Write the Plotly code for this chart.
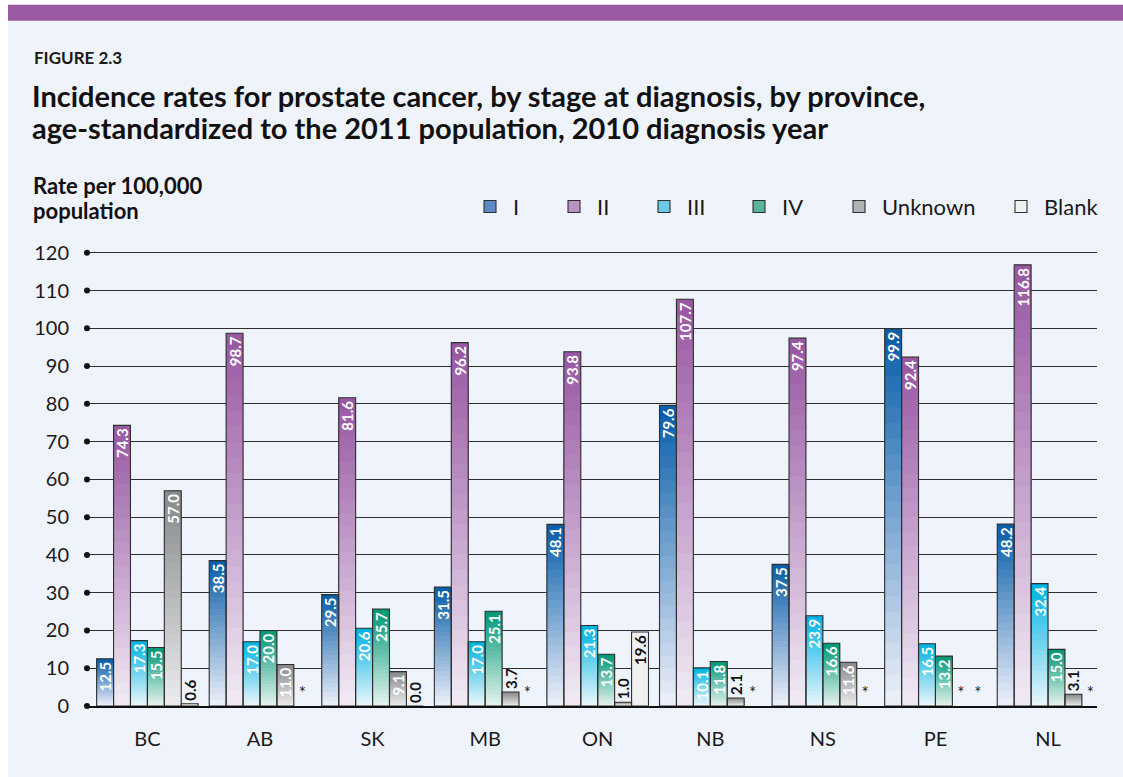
import plotly.graph_objects as go

# ---------------- data ----------------
provinces = ["BC", "AB", "SK", "MB", "ON", "NB", "NS", "PE", "NL"]
stage_I = [12.5, 38.5, 29.5, 31.5, 48.1, 79.6, 37.5, 99.9, 48.2]
stage_II = [74.3, 98.7, 81.6, 96.2, 93.8, 107.7, 97.4, 92.4, 116.8]
stage_III = [17.3, 17.0, 20.6, 17.0, 21.3, 10.1, 23.9, 16.5, 32.4]
stage_IV = [15.5, 20.0, 25.7, 25.1, 13.7, 11.8, 16.6, 13.2, 15.0]
stage_unknown = [57.0, 11.0, 9.1, 3.7, 1.0, 2.1, 11.6, None, 3.1]
stage_blank = [0.6, None, 0.0, None, 19.6, None, None, None, None]
y_ticks = [0, 10, 20, 30, 40, 50, 60, 70, 80, 90, 100, 110, 120]

# name, values, gradient top colour, gradient bottom colour, legend swatch, label colour
series = [
    ("I", stage_I, (10, 94, 170), (234, 238, 248), "#5f88c6", "white"),
    ("II", stage_II, (152, 88, 163), (240, 233, 244), "#bb92c6", "white"),
    ("III", stage_III, (0, 180, 226), (232, 245, 251), "#6ccae6", "white"),
    ("IV", stage_IV, (0, 152, 118), (228, 242, 237), "#5ab39b", "white"),
    ("Unknown", stage_unknown, (136, 137, 140), (234, 234, 236), "#b2b3b7", "white"),
    ("Blank", stage_blank, (240, 240, 240), (240, 240, 240), "#f1f1f1", "#111111"),
]
legend_box_left = [481, 565, 655, 750, 850, 1012]  # pixel x of legend swatches

FONT = "Lato"
W, H = 1123, 777
L, R, B = 87, 1097, 706
Y_MAX = 121
T = B - 453 * Y_MAX / 120  # so that 120 lands at pixel 253
N_BANDS = 24


def px_x(p):
    return (p - L) / (R - L)


def px_y(p):
    return (B - p) / (B - T)


def mix(c1, c2, t):
    return "rgb(%d,%d,%d)" % tuple(round(a + (b - a) * t) for a, b in zip(c1, c2))


fig = go.Figure()

# gradient fill: overlapping bands, each band reaching a fraction of the bar's own height
for name, vals, top, bottom, swatch, lab in series:
    for k in range(N_BANDS):
        frac = 1 - k / N_BANDS
        fig.add_trace(go.Bar(
            x=provinces, y=[None if v is None else v * frac for v in vals],
            offsetgroup=name, showlegend=False, hoverinfo="skip",
            marker=dict(color=mix(top, bottom, k / (N_BANDS - 1)), line=dict(width=0)),
        ))

# outlines + value labels
for name, vals, top, bottom, swatch, lab in series:
    texts, positions, colors = [], [], []
    for v in vals:
        if v is None:
            texts.append("")
            positions.append("none")
            colors.append("#111111")
        elif v < 5:
            texts.append(f"{v:.1f}")
            positions.append("outside")
            colors.append("#111111")
        else:
            texts.append(f"{v:.1f}")
            positions.append("inside")
            colors.append(lab)
    fig.add_trace(go.Bar(
        name=name, x=provinces, y=vals, offsetgroup=name, showlegend=False,
        marker=dict(color="rgba(0,0,0,0)", line=dict(color="#2f2f2f", width=1.1)),
        text=texts, textposition=positions, textangle=-90,
        insidetextanchor="end", cliponaxis=False,
        textfont=dict(family=FONT, size=15, color=colors, weight="bold"),
        outsidetextfont=dict(family=FONT, size=15, color="#111111", weight="bold"),
        hoverinfo="skip",
    ))
    # suppressed-value markers (*)
    star_y = [0 if v is None else None for v in vals]
    if any(s is not None for s in star_y):
        fig.add_trace(go.Bar(
            x=provinces, y=star_y, offsetgroup=name,
            marker=dict(color="rgba(0,0,0,0)", line=dict(width=0)),
            text=["*" if s is not None else "" for s in star_y],
            textposition="outside", textangle=0, cliponaxis=False,
            textfont=dict(family=FONT, size=17, color="#222222"),
            showlegend=False, hoverinfo="skip",
        ))

# legend entries (one legend per entry so they can be spaced like the original)
for i, (name, vals, top, bottom, swatch, lab) in enumerate(series):
    fig.add_trace(go.Bar(
        name=name, x=provinces, y=[None] * len(provinces), offsetgroup=name,
        marker=dict(color=swatch, line=dict(color="#2f2f2f", width=1.1)),
        legend="legend" if i == 0 else f"legend{i + 1}", hoverinfo="skip",
    ))

# dots at the left end of each gridline
fig.add_trace(go.Scatter(
    x=[0] * len(y_ticks), y=y_ticks, xaxis="x2", mode="markers",
    marker=dict(color="#111111", size=6), cliponaxis=False,
    showlegend=False, hoverinfo="skip",
))

shapes = [
    dict(type="rect", xref="paper", yref="paper", layer="below",
         x0=px_x(8), x1=px_x(W + 5), y0=px_y(H + 5), y1=px_y(5),
         fillcolor="#eff3fb", line=dict(width=0)),
    dict(type="rect", xref="paper", yref="paper", layer="above",
         x0=px_x(8), x1=px_x(W + 5), y0=px_y(21), y1=px_y(5),
         fillcolor="#9a5ba3", line=dict(width=0)),
]

annotations = [
    dict(text="<b>FIGURE 2.3</b>", x=px_x(32), y=px_y(58), xref="paper", yref="paper",
         xanchor="left", yanchor="middle", showarrow=False,
         font=dict(family=FONT, size=17, color="#1a1a1a")),
    dict(text="<b>Incidence rates for prostate cancer, by stage at diagnosis, by province,</b>",
         x=px_x(30), y=px_y(96), xref="paper", yref="paper",
         xanchor="left", yanchor="middle", showarrow=False,
         font=dict(family=FONT, size=29, color="#111111")),
    dict(text="<b>age-standardized to the 2011 population, 2010 diagnosis year</b>",
         x=px_x(30), y=px_y(128), xref="paper", yref="paper",
         xanchor="left", yanchor="middle", showarrow=False,
         font=dict(family=FONT, size=29, color="#111111")),
    dict(text="<b>Rate per 100,000</b>", x=px_x(31), y=px_y(186), xref="paper", yref="paper",
         xanchor="left", yanchor="middle", showarrow=False,
         font=dict(family=FONT, size=22, color="#111111")),
    dict(text="<b>population</b>", x=px_x(31), y=px_y(211), xref="paper", yref="paper",
         xanchor="left", yanchor="middle", showarrow=False,
         font=dict(family=FONT, size=22, color="#111111")),
]

layout_legends = {}
for i, left in enumerate(legend_box_left):
    key = "legend" if i == 0 else f"legend{i + 1}"
    layout_legends[key] = dict(
        orientation="h", x=px_x(left - 14), y=px_y(207), xanchor="left", yanchor="middle",
        itemwidth=36,
        bgcolor="rgba(0,0,0,0)", font=dict(family=FONT, size=22, color="#1a1a1a"),
    )

fig.update_layout(
    width=W, height=H,
    margin=dict(l=L, r=W - R, t=T, b=H - B, pad=0),
    paper_bgcolor="white", plot_bgcolor="rgba(0,0,0,0)",
    barmode="group", bargap=0.098, bargroupgap=0,
    font=dict(family=FONT, size=20, color="#1a1a1a"),
    uniformtext=dict(minsize=15, mode="show"),
    showlegend=True,
    xaxis=dict(type="category", range=[-0.5365, 8.435], showgrid=False,
               showline=True, linecolor="#111111", linewidth=1.6, ticks="",
               ticklabelstandoff=14, tickfont=dict(family=FONT, size=20, color="#1a1a1a"),
               fixedrange=True),
    xaxis2=dict(overlaying="x", range=[0, 1], visible=False, fixedrange=True),
    yaxis=dict(range=[0, Y_MAX], tickvals=y_ticks, showgrid=True, gridcolor="#2e2e2e",
               gridwidth=1.3, zeroline=False, showline=False, ticks="",
               ticklabelstandoff=17, tickfont=dict(family=FONT, size=20, color="#1a1a1a"),
               fixedrange=True),
    shapes=shapes, annotations=annotations,
    **layout_legends,
)

fig.write_html("out.html", config={"displayModeBar": False},
               post_script="document.body.style.margin='0px';")
